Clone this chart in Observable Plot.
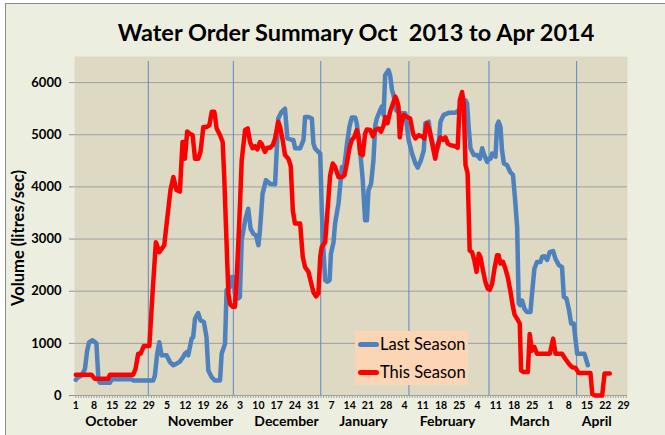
<!DOCTYPE html>
<html><head><meta charset="utf-8">
<script src="https://cdn.jsdelivr.net/npm/d3@7"></script>
<script src="https://cdn.jsdelivr.net/npm/@observablehq/plot@0.6"></script>
<style>
html,body{margin:0;padding:0;background:#fff;overflow:hidden;width:665px;height:435px;}
#frame{position:absolute;left:5px;top:3px;width:700px;height:500px;background:#ECEFE0;border:1px solid #8a8a8a;box-sizing:border-box;}
#title{position:absolute;left:0;top:17px;width:712px;text-align:center;font:bold 23.5px Lato,sans-serif;color:#000;line-height:30px;white-space:pre;}
#chart{position:absolute;left:0;top:46px;}
#ylab{position:absolute;left:18px;top:238px;transform:translate(-50%,-50%) rotate(-90deg);font:bold 16.5px Lato,sans-serif;white-space:nowrap;color:#000;}
#legend{position:absolute;left:355px;top:331px;width:113px;height:54px;background:#FCD5B4;font:16.5px Lato,sans-serif;color:#000;}
.row{position:absolute;left:3px;height:20px;line-height:20px;white-space:nowrap;}
.sw{display:inline-block;width:21px;height:5px;border-radius:3px;vertical-align:middle;margin-right:1px;position:relative;top:-1px;}
</style></head>
<body>
<div id="frame"></div>
<div id="title"></div>
<div id="chart"></div>
<div id="ylab"></div>
<div id="legend"></div>
<script>
// ---- data (day offsets from 1 Oct 2013, volume in litres/sec) ----
const titleText = "Water Order Summary Oct  2013 to Apr 2014";
const yLabel = "Volume (litres/sec)";
const seriesNames = ["Last Season", "This Season"];
const seriesColors = ["#4F81BD", "#FF0000"];

const lastDay = [0,0.9,2.2,3.5,4.35,5.1,6.4,7.9,8.7,9.2,13.1,13.7,21.4,22,29.7,30.3,31.2,32,32.9,34.8,36.1,37.4,38.6,39.9,40.6,41.2,41.8,42.5,43.1,44.4,45.0,45.7,46.9,47.8,49.1,50.1,50.8,52.1,53.3,55.3,55.9,57.2,57.8,59.1,59.7,60.4,61.0,62.3,62.9,63.6,64.9,66.1,67.0,68.1,69.1,70.0,70.6,71.6,72.9,74.4,76.4,77.6,78.9,80.2,81.1,82.8,83.4,84.1,86.0,87.3,87.9,89.2,90.5,91.1,91.7,93.0,93.7,94.3,95.0,95.6,96.5,97.3,97.8,98.8,99.4,100.7,101.3,102.0,102.9,103.9,104.9,105.8,107.1,107.7,109.0,110.0,110.9,111.6,112.2,113.2,114.1,114.8,115.4,116.4,117.3,118.0,118.6,119.9,120.5,121.2,121.8,122.8,124.4,126.3,127.6,128.9,130.2,131.1,132.3,133.4,134.0,135.3,135.9,137.2,138.2,139.1,139.8,141.0,143.0,145.5,146.8,148.1,149.4,150.0,150.6,151.3,152.6,153.8,154.9,155.8,156.6,157.7,158.3,159.0,159.6,160.9,161.5,162.1,162.8,163.4,164.1,165.3,166.6,167.6,168.5,169.2,169.8,170.4,171.1,172.0,173.0,174.3,174.9,175.8,176.8,178.1,178.8,179.7,180.7,181.7,183.0,183.9,185.2,186.4,187.1,188.1,189.0,189.9,190.9,191.6,192.2,195.0,196.3];
const lastVol = [300,350,380,510,860,1020,1060,1000,290,245,245,310,310,290,290,380,800,1020,770,770,640,580,610,650,700,740,800,830,770,1090,1120,1470,1580,1440,1410,1120,480,350,290,290,800,990,2020,2080,2270,2270,1950,1860,1890,2980,3360,3580,3200,3100,3070,2880,3170,3870,4130,4060,4050,5310,5440,5500,4930,4900,4900,4740,4740,4900,5340,5340,5310,4830,4740,4670,4640,3550,2720,2210,2180,2210,2720,2940,3300,3680,4000,4380,4380,4800,5150,5330,5330,5220,4700,4130,3360,3360,3940,4060,4510,5180,5310,5440,5540,5380,6140,6240,6140,5860,5760,5470,5410,5410,4900,4640,4450,4370,4510,4700,5220,5250,5020,4770,4670,4800,5250,5380,5420,5420,5470,5540,5660,5600,5150,4740,4610,4610,4540,4740,4610,4480,4540,4540,4640,4580,5180,5250,5150,4700,4450,4420,4280,4230,3700,3230,1760,1730,1820,1660,1600,1600,1950,2430,2560,2560,2660,2670,2600,2750,2770,2620,2500,2460,1890,1860,1660,1380,1380,1060,800,800,580];

const thisDay = [0,6.0,7.3,12.4,13.1,22.0,22.9,23.9,24.8,26.1,28.2,29.4,30.7,32.0,33.9,35.1,36.3,37.4,38.6,39.9,40.9,41.4,41.8,42.7,43.7,44.8,45.7,46.9,47.8,48.9,50.1,51.2,52.1,53.1,54.0,55.3,56.3,56.9,57.8,58.5,59.1,60.1,61.0,61.7,62.7,63.6,64.9,65.9,66.8,67.8,68.7,69.6,70.6,71.2,72.5,73.4,74.4,75.5,76.4,77.6,78.3,79.3,80.2,81.5,82.4,83.2,84.0,86.0,87.0,87.9,89.2,90.1,91.1,92.1,93.0,93.7,94.3,95.6,96.5,97.5,98.5,99.4,100.7,102.0,103.0,103.9,104.9,105.8,106.8,107.7,108.4,109.0,110.0,110.9,111.6,112.9,113.9,114.8,116.1,117.0,118.0,118.6,119.5,120.5,121.6,122.5,123.1,123.7,124.2,125.0,125.7,127.0,128.2,129.3,130.2,131.4,132.7,133.6,134.6,135.7,136.6,137.8,138.7,139.8,140.8,141.7,142.6,143.6,145.5,146.4,147.2,148.1,148.7,149.4,150.2,151.0,151.9,152.8,153.6,154.5,155.1,156.1,157.0,157.9,158.7,159.6,160.5,161.5,162.1,162.8,163.8,164.7,165.6,166.6,167.4,168.2,169.2,170.2,170.7,171.7,173.3,174.0,174.9,175.8,176.8,181.7,183.0,183.9,186.4,187.7,189.0,190.3,191.6,192.8,197.3,198.0,199.2,201.8,202.7,204.7];
const thisVol = [400,400,320,320,400,400,510,800,800,950,950,1950,2940,2750,2880,3420,3940,4190,3940,3910,4860,4860,4540,5060,5020,4990,4540,4540,4670,5150,5150,5180,5440,5440,5120,4990,4860,4190,2910,1950,1760,1700,1700,2270,3360,4510,5090,5120,4860,4740,4780,4720,4860,4830,4670,4750,4750,4800,4930,5250,5150,4900,4610,4540,4400,3550,3300,3300,2660,2460,2370,2180,1980,1900,1960,2660,2850,2940,3550,4220,4450,4380,4190,4190,4220,4450,4740,4900,4960,5090,4960,4640,4610,5020,5100,5090,4970,5090,5120,5060,5180,5340,5220,5440,5600,5730,5660,5540,4950,5250,5380,5340,5310,5020,4930,4990,4970,4930,5220,5060,4830,4540,4800,4950,4900,4950,4830,4800,4780,4750,5660,5820,5600,4420,4260,2780,2750,2590,2370,2720,2660,2400,2180,2050,2030,2140,2430,2690,2690,2530,2560,2430,2270,2000,1750,1550,1470,1380,480,450,450,1180,860,930,800,800,1090,800,800,700,610,540,530,430,430,30,0,0,420,420];

const yTicks = [0,1000,2000,3000,4000,5000,6000];
const weekTickDays = [0,7,14,21,28,35,42,49,56,63,70,77,84,91,98,105,112,119,126,133,140,147,154,161,168,175,182,189,196,203,210];
const monthNames = ["October","November","December","January","February","March","April"];
const monthLabelDays = [13.6,47.8,80.8,110.3,142.5,174.0,199.7];
const separatorDays = [27.8,60.4,93.9,127.7,158.4,192.0];

// ---- helpers ----
const base = Date.UTC(2013, 9, 1);
const toDate = d => new Date(base + d * 864e5);
const lastData = lastDay.map((d, i) => ({date: toDate(d), vol: lastVol[i]}));
const thisData = thisDay.map((d, i) => ({date: toDate(d), vol: thisVol[i]}));
const months = monthNames.map((m, i) => ({date: toDate(monthLabelDays[i]), name: m}));
const dailyTicks = d3.range(0, 212).map(toDate);
const font = "Lato, sans-serif";

const chart = Plot.plot({
  width: 665, height: 389,
  marginLeft: 74, marginRight: 38, marginTop: 10, marginBottom: 40,
  style: {background: "transparent", fontFamily: font, color: "#000", overflow: "visible"},
  x: {type: "utc", domain: [toDate(-0.5), toDate(211.5)], label: null},
  y: {domain: [0, 6500], label: null},
  marks: [
    Plot.frame({fill: "#DDD9C3", stroke: null}),
    Plot.gridY(yTicks.slice(1), {stroke: "#9f9f9f", strokeOpacity: 1, strokeWidth: 1}),
    Plot.ruleX(separatorDays.map(toDate), {stroke: "#5F88C4", strokeWidth: 1, insetTop: 5}),
    Plot.ruleY([0], {stroke: "#9f9f9f", strokeWidth: 1}),
    Plot.axisY(yTicks, {tickSize: 5, tickPadding: 8, stroke: "#8f8f8f", tickFormat: d3.format("d"), fontWeight: "bold", fontSize: 13, label: null}),
    Plot.axisX(dailyTicks, {tickSize: 3, stroke: "#a0a0a0", fill: "none", label: null}),
    Plot.axisX(weekTickDays.map(toDate), {tickSize: 0, tickPadding: 6, tickFormat: d3.utcFormat("%-d"), fontWeight: "bold", fontSize: 10.5, label: null}),
    Plot.text(months, {x: "date", text: "name", frameAnchor: "bottom", dy: 30, fontWeight: "bold", fontSize: 14, fill: "#000"}),
    Plot.line(lastData, {x: "date", y: "vol", stroke: seriesColors[0], strokeWidth: 4.5, strokeLinejoin: "round", strokeLinecap: "round"}),
    Plot.line(thisData, {x: "date", y: "vol", stroke: seriesColors[1], strokeWidth: 4.5, strokeLinejoin: "round", strokeLinecap: "round"})
  ]
});
document.getElementById("chart").appendChild(chart);
document.getElementById("title").textContent = titleText;
document.getElementById("ylab").textContent = yLabel;
const leg = document.getElementById("legend");
seriesNames.forEach((n, i) => {
  const row = document.createElement("div");
  row.className = "row";
  row.style.top = (3 + i * 28) + "px";
  const sw = document.createElement("span");
  sw.className = "sw";
  sw.style.background = seriesColors[i];
  row.appendChild(sw);
  row.appendChild(document.createTextNode(n));
  leg.appendChild(row);
});
</script>
</body></html>
